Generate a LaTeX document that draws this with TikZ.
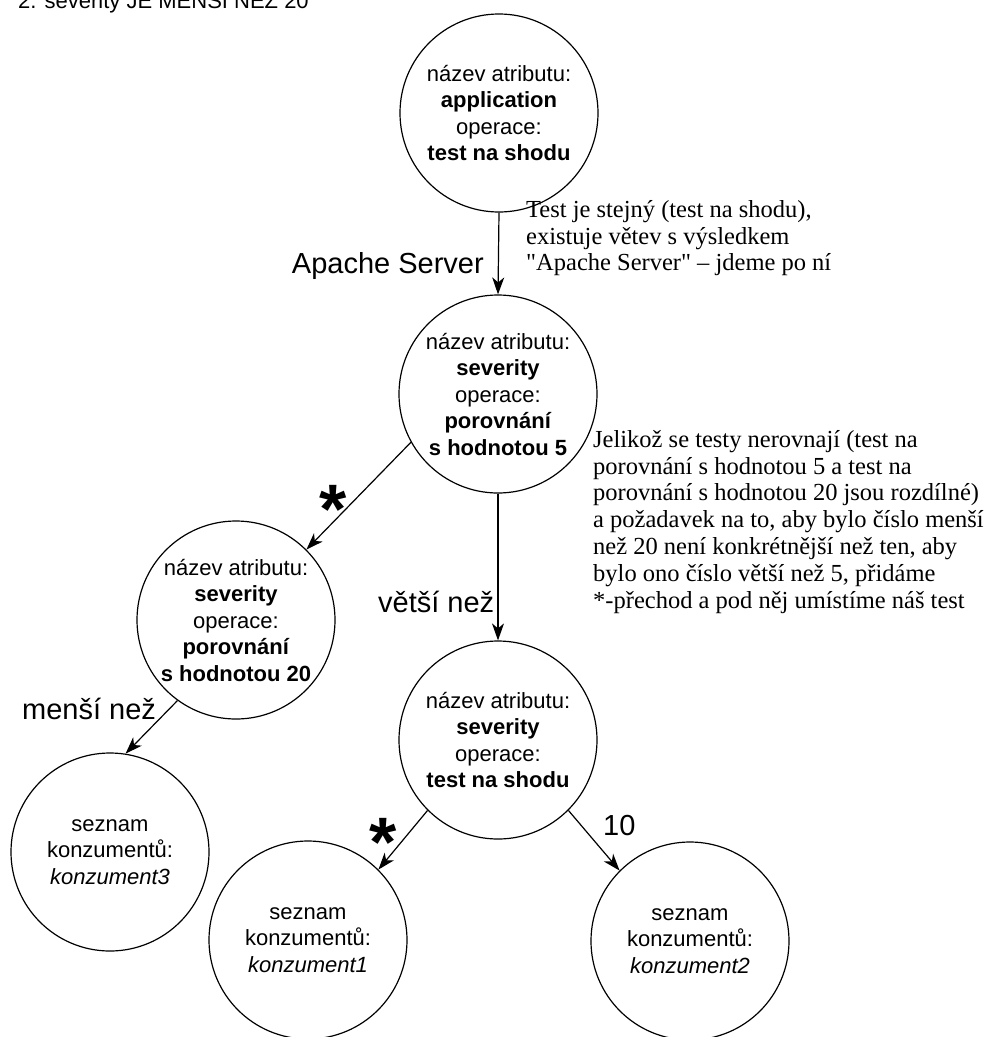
\documentclass[tikz,border=0pt]{standalone}
\usepackage{fontspec}
\setsansfont{Liberation Sans}
\newfontfamily\notefont{Liberation Serif}
\usetikzlibrary{arrows.meta}
\begin{document}
\begin{tikzpicture}[x=1pt,y=-1pt,
  state/.style={circle,draw,line width=1.2pt,minimum size=198pt,inner sep=0pt,align=center,font=\fontsize{22}{26.5}\selectfont\sffamily},
  edge/.style={line width=1.2pt,-{Stealth[length=17pt,width=12pt,inset=5pt]}},
  elabel/.style={font=\fontsize{29}{34}\selectfont\sffamily,inner sep=0pt},
  starlabel/.style={font=\fontsize{70}{70}\selectfont\sffamily\bfseries,inner sep=0pt,anchor=base},
  note/.style={font=\fontsize{24.5}{26.8}\selectfont\notefont,align=left,inner sep=0pt,anchor=north west}]
\useasboundingbox (0,0) rectangle (989,1037);
\node[anchor=base west,inner sep=0pt,font=\fontsize{22}{26}\selectfont\sffamily] (title) at (18,8) {2. severity JE MENŠÍ NEŽ 20};

\node[state] (c1) at (499,113) {název atributu:\\\textbf{application}\\operace:\\\textbf{test na shodu}};
\node[state] (c2) at (498,394) {název atributu:\\\textbf{severity}\\operace:\\\textbf{porovnání}\\\textbf{s hodnotou 5}};
\node[state] (c3) at (236,620) {název atributu:\\\textbf{severity}\\operace:\\\textbf{porovnání}\\\textbf{s hodnotou 20}};
\node[state] (c4) at (498,740) {název atributu:\\\textbf{severity}\\operace:\\\textbf{test na shodu}};
\node[state] (c5) at (110,852) {seznam\\konzumentů:\\\textit{konzument3}};
\node[state] (c6) at (308,940) {seznam\\konzumentů:\\\textit{konzument1}};
\node[state] (c7) at (690,941) {seznam\\konzumentů:\\\textit{konzument2}};

\draw[edge] (c1.south) -- (c2.north);
\draw[edge] (c2.south) -- (c4.north);
\draw[edge] (c2.209) -- (c3.north east);
\draw[edge] (c3.234) -- (c5.81);
\draw[edge] (c4.south west) -- (c6.north east);
\draw[edge] (c4.south east) -- (c7.north west);

\node[elabel,anchor=base east] (lapache) at (484,273) {Apache Server};
\node[elabel,anchor=base west] (lmensi) at (22,719) {menší než};
\node[elabel,anchor=base west] (lvetsi) at (378,612) {větší než};
\node[elabel,anchor=base west] (lten) at (603,835) {10};
\node[starlabel] (lstar1) at (333,533) {*};
\node[starlabel] (lstar2) at (383,866) {*};

\node[note] (n1) at (526,200) {Test je stejný (test na shodu),\\existuje větev s výsledkem\\"Apache Server" – jdeme po ní};
\node[note] (n2) at (593,430) {Jelikož se testy nerovnají (test na\\porovnání s hodnotou 5 a test na\\porovnání s hodnotou 20 jsou rozdílné)\\a požadavek na to, aby bylo číslo menší\\než 20 není konkrétnější než ten, aby\\bylo ono číslo větší než 5, přidáme\\*-přechod a pod něj umístíme náš test};
\end{tikzpicture}
\end{document}
